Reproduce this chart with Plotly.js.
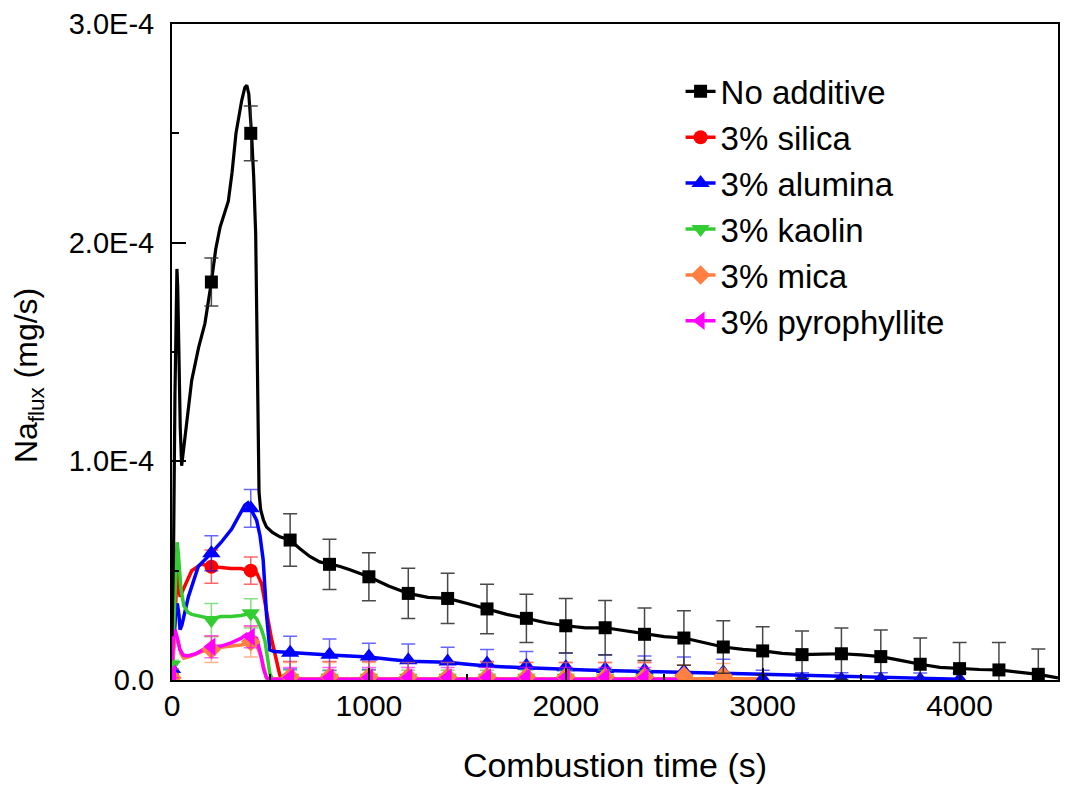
<!DOCTYPE html>
<html>
<head>
<meta charset="utf-8">
<script src="https://cdn.plot.ly/plotly-3.0.1.min.js"></script>
<style>html,body{margin:0;padding:0;background:#fff;}#chart{width:1065px;height:792px;}</style>
</head>
<body>
<div id="chart"></div>
<script>
// values in units of 1E-4 mg/s
const SCALE = 1e-4;
const seriesNames = ['No additive', '3% silica', '3% alumina', '3% kaolin', '3% mica', '3% pyrophyllite'];

// ---- No additive (black) ----
const noAddLineT = [0,8,15,21,25,29,35,42,49,60,80,100,135,167,200,222,244,265,286,305,325,354,370,380,390,404,415,425,432,437,442,450,465,480,510,548,600,650,700,750,800,850,900,950,1000,1100,1200,1300,1400,1500,1600,1700,1800,1900,2000,2100,2200,2300,2400,2500,2600,2700,2800,2900,3000,3100,3200,3300,3400,3500,3600,3700,3800,3900,4000,4100,4200,4300,4400,4500];
const noAddLineV = [0.2,0.6,1.3,1.82,1.88,1.8,1.45,1.15,0.98,1.06,1.22,1.37,1.52,1.63,1.82,1.97,2.07,2.13,2.19,2.32,2.50,2.65,2.71,2.72,2.68,2.50,2.3,2.04,1.6,1.1,0.86,0.78,0.73,0.70,0.675,0.655,0.64,0.6,0.565,0.54,0.529,0.52,0.505,0.49,0.472,0.43,0.396,0.378,0.373,0.35,0.325,0.30,0.282,0.262,0.248,0.238,0.239,0.225,0.209,0.198,0.192,0.17,0.151,0.14,0.133,0.122,0.116,0.118,0.12,0.115,0.107,0.09,0.072,0.058,0.052,0.048,0.046,0.035,0.026,0.01];
const noAddMarkT = [200,400,600,800,1000,1200,1400,1600,1800,2000,2200,2400,2600,2800,3000,3200,3400,3600,3800,4000,4200,4400];
const noAddMarkV = [1.82,2.50,0.64,0.529,0.472,0.396,0.373,0.325,0.282,0.248,0.239,0.209,0.192,0.151,0.133,0.116,0.12,0.107,0.072,0.052,0.046,0.026];
const noAddErr   = [0.11,0.125,0.12,0.115,0.11,0.115,0.115,0.113,0.11,0.125,0.125,0.12,0.125,0.12,0.11,0.108,0.118,0.122,0.12,0.12,0.126,0.116];

// ---- 3% silica (red) ----
const silicaLineT = [0,10,20,27,33,41,60,100,150,200,250,300,350,400,430,455,475,489,505,523,548,560,600,1000,2400];
const silicaLineV = [0.02,0.2,0.45,0.5,0.45,0.38,0.42,0.50,0.53,0.518,0.515,0.51,0.51,0.50,0.49,0.44,0.33,0.27,0.19,0.12,0.02,0.005,0.004,0.004,0.004];
const silicaMarkT = [0,200,400,600,800,1000,1200,1400,1600,1800,2000,2200,2400];
const silicaMarkV = [0.02,0.518,0.50,0.01,0.01,0.01,0.01,0.01,0.01,0.01,0.01,0.01,0.01];
const silicaErr   = [0.02,0.076,0.062,0.075,0.075,0.075,0.075,0.075,0.075,0.07,0.07,0.07,0.07];

// ---- 3% alumina (blue) ----
const aluminaLineT = [0,10,20,27,35,41,50,83,134,200,250,303,340,370,385,400,430,447,463,480,497,520,600,700,800,900,1000,1100,1200,1300,1400,1500,1600,1700,1800,1900,2000,2100,2200,2300,2400,2500,2600,2700,2800,2900,3000,3100,3200,3300,3400,3500,3600,3700,3800,3900,4000];
const aluminaLineV = [0.05,0.2,0.33,0.35,0.3,0.23,0.25,0.38,0.52,0.58,0.63,0.69,0.75,0.8,0.81,0.785,0.73,0.66,0.55,0.30,0.137,0.13,0.125,0.118,0.114,0.11,0.105,0.095,0.086,0.083,0.081,0.072,0.064,0.06,0.056,0.05,0.048,0.046,0.044,0.042,0.04,0.038,0.035,0.032,0.03,0.028,0.025,0.022,0.02,0.018,0.017,0.016,0.015,0.012,0.008,0.006,0.004];
const aluminaMarkT = [0,200,400,600,800,1000,1200,1400,1600,1800,2000,2200,2400,2600,2800,3000,3200,3400,3600,3800,4000];
const aluminaMarkV = [0.05,0.58,0.785,0.125,0.115,0.108,0.09,0.085,0.075,0.065,0.058,0.05,0.045,0.04,0.035,0.005,0.003,0.003,0.003,0.002,0.002];
const aluminaErr   = [0.03,0.08,0.086,0.075,0.072,0.06,0.075,0.065,0.065,0.065,0.065,0.065,0.065,0.065,0.06,0.04,0.03,0.03,0.03,0.03,0.03];

// ---- 3% kaolin (green) ----
const kaolinLineT = [0,10,20,26,32,45,60,80,100,150,200,250,300,350,400,430,455,472,485,497,510,600,2400];
const kaolinLineV = [0.05,0.3,0.58,0.63,0.58,0.42,0.34,0.31,0.30,0.29,0.28,0.29,0.29,0.295,0.305,0.28,0.23,0.18,0.1,0.03,0.005,0.005,0.005];
const kaolinMarkT = [0,200,400,600,800,1000,1200,1400,1600,1800,2000,2200,2400];
const kaolinMarkV = [0.07,0.274,0.305,0.01,0.01,0.01,0.01,0.01,0.01,0.01,0.01,0.01,0.01];
const kaolinErr   = [0.02,0.076,0.067,0.035,0.035,0.035,0.035,0.035,0.035,0.035,0.035,0.035,0.035];

// ---- 3% mica (orange) ----
const micaLineT = [0,10,20,30,45,60,100,150,200,250,300,350,400,430,455,470,480,500,1000,3000];
const micaLineV = [0.02,0.15,0.2,0.18,0.12,0.1,0.11,0.13,0.14,0.15,0.155,0.16,0.17,0.16,0.1,0.04,0.01,0.006,0.006,0.006];
const micaMarkT = [0,200,400,600,800,1000,1200,1400,1600,1800,2000,2200,2400,2600,2800];
const micaMarkV = [0.01,0.14,0.175,0.015,0.015,0.015,0.015,0.015,0.015,0.015,0.015,0.015,0.015,0.02,0.02];
const micaErr   = [0.02,0.06,0.07,0.065,0.065,0.065,0.065,0.065,0.065,0.065,0.065,0.065,0.065,0.05,0.056];

// ---- 3% pyrophyllite (magenta) ----
const pyroLineT = [0,8,15,25,40,57,80,120,160,200,250,300,350,380,400,430,450,465,480,500,1000,2600];
const pyroLineV = [0.05,0.2,0.23,0.2,0.14,0.114,0.11,0.12,0.14,0.152,0.155,0.17,0.19,0.21,0.205,0.19,0.12,0.05,0.01,0.003,0.003,0.003];
const pyroMarkT = [0,200,400,600,800,1000,1200,1400,1600,1800,2000,2200,2400];
const pyroMarkV = [0.03,0.152,0.198,0.012,0.012,0.012,0.012,0.012,0.012,0.012,0.012,0.012,0.012];
const pyroErr   = [0.02,0.05,0.05,0.045,0.045,0.045,0.045,0.045,0.045,0.045,0.045,0.045,0.045];

// axis ticks
const xTickVals = [0,1000,2000,3000,4000];
const xTickText = ['0','1000','2000','3000','4000'];
const yTickVals = [0,1e-4,2e-4,3e-4];
const yTickText = ['0.0','1.0E-4','2.0E-4','3.0E-4'];

const series = [
  {name: seriesNames[0], lt: noAddLineT, lv: noAddLineV, mt: noAddMarkT, mv: noAddMarkV, e: noAddErr,
   color: '#000000', errColor: 'rgba(40,40,40,0.85)', symbol: 'square', size: 13, lw: 3.2},
  {name: seriesNames[1], lt: silicaLineT, lv: silicaLineV, mt: silicaMarkT, mv: silicaMarkV, e: silicaErr,
   color: '#ff0000', errColor: 'rgba(255,0,0,0.6)', symbol: 'circle', size: 14, lw: 3.5},
  {name: seriesNames[2], lt: aluminaLineT, lv: aluminaLineV, mt: aluminaMarkT, mv: aluminaMarkV, e: aluminaErr,
   color: '#0000ff', errColor: 'rgba(0,0,255,0.6)', symbol: 'triangle-up', size: 16, lw: 3.5},
  {name: seriesNames[3], lt: kaolinLineT, lv: kaolinLineV, mt: kaolinMarkT, mv: kaolinMarkV, e: kaolinErr,
   color: '#33cc33', errColor: 'rgba(51,204,51,0.6)', symbol: 'triangle-down', size: 16, lw: 3.5},
  {name: seriesNames[4], lt: micaLineT, lv: micaLineV, mt: micaMarkT, mv: micaMarkV, e: micaErr,
   color: '#ff8040', errColor: 'rgba(255,128,64,0.6)', symbol: 'diamond', size: 15, lw: 3.5},
  {name: seriesNames[5], lt: pyroLineT, lv: pyroLineV, mt: pyroMarkT, mv: pyroMarkV, e: pyroErr,
   color: '#ff00ff', errColor: 'rgba(255,0,255,0.6)', symbol: 'triangle-left', size: 16, lw: 3.5}
];

const sc = a => a.map(v => v * SCALE);
const traces = [];
const drawOrder = [1,2,3,4,5,0];
drawOrder.forEach(i => {
  const s = series[i];
  traces.push({
    x: s.lt, y: sc(s.lv), type: 'scatter', mode: 'lines', showlegend: false, hoverinfo: 'skip',
    line: {color: s.color, width: s.lw}
  });
});
drawOrder.forEach(i => {
  const s = series[i];
  traces.push({
    x: s.mt, y: sc(s.mv), type: 'scatter', mode: 'markers', showlegend: false,
    marker: {color: s.color, symbol: s.symbol, size: s.size, line: {width: 0}},
    error_y: {type: 'data', array: sc(s.e), visible: true, color: s.errColor, thickness: 1.5, width: 7}
  });
});
series.forEach(s => {
  traces.push({
    x: [null], y: [null], type: 'scatter', mode: 'lines+markers', name: s.name,
    line: {color: s.color, width: s.lw},
    marker: {color: s.color, symbol: s.symbol, size: s.size, line: {width: 0}}
  });
});

const FONT = 'Liberation Sans, Arial, sans-serif';
const layout = {
  width: 1065, height: 792,
  paper_bgcolor: '#ffffff', plot_bgcolor: '#ffffff',
  margin: {l: 172, r: 7, t: 24, b: 112},
  font: {family: FONT, color: '#000', size: 28},
  showlegend: true,
  legend: {
    x: 0.574, y: 0.94, xanchor: 'left', yanchor: 'top',
    bgcolor: 'rgba(0,0,0,0)', borderwidth: 0,
    font: {family: FONT, size: 33, color: '#000'},
    tracegroupgap: 0, itemwidth: 30
  },
  xaxis: {
    range: [0, 4500], showgrid: false, zeroline: false,
    showline: true, linecolor: '#000', linewidth: 2, mirror: true,
    ticks: 'inside', ticklen: 12, tickwidth: 2, tickcolor: '#000',
    tickvals: xTickVals, ticktext: xTickText,
    minor: {ticks: 'inside', ticklen: 6, tickwidth: 2, tickcolor: '#000', dtick: 500, showgrid: false},
    tickfont: {family: FONT, size: 30, color: '#000'},
    ticklabelstandoff: -2,
    title: {text: 'Combustion time (s)', font: {family: FONT, size: 34, color: '#000'}, standoff: 32}
  },
  yaxis: {
    range: [0, 3e-4], showgrid: false, zeroline: false,
    showline: true, linecolor: '#000', linewidth: 2, mirror: true,
    ticks: 'inside', ticklen: 14, tickwidth: 2, tickcolor: '#000',
    tickvals: yTickVals, ticktext: yTickText,
    minor: {ticks: 'inside', ticklen: 7, tickwidth: 2, tickcolor: '#000', dtick: 5e-5, showgrid: false},
    tickfont: {family: FONT, size: 29, color: '#000'},
    ticklabelstandoff: 10
  },
  annotations: [{
    text: 'Na<sub>flux</sub> (mg/s)', xref: 'paper', yref: 'paper',
    x: -0.1625, y: 0.4634, xanchor: 'center', yanchor: 'middle',
    textangle: -90, showarrow: false,
    font: {family: FONT, size: 32, color: '#000'}
  }]
};

Plotly.newPlot('chart', traces, layout, {displayModeBar: false, staticPlot: true});
</script>
</body>
</html>
